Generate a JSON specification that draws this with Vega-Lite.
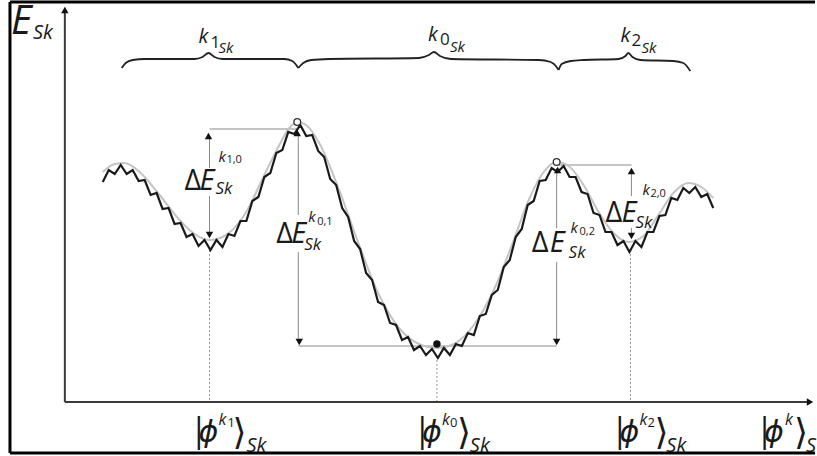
{
  "$schema": "https://vega.github.io/schema/vega-lite/v6.json",
  "width": 817,
  "height": 456,
  "autosize": {"type": "fit", "contains": "padding"},
  "padding": 0,
  "background": "white",
  "config": {"view": {"stroke": null}},
  "datasets": {
    "smooth": [
      {"x":103,"y":172},{"x":115,"y":164},{"x":125,"y":163},{"x":140,"y":172},{"x":160,"y":195},{"x":180,"y":220},{"x":195,"y":234},{"x":210,"y":240},{"x":225,"y":236},{"x":245,"y":215},{"x":265,"y":175},{"x":280,"y":145},{"x":290,"y":128},{"x":298,"y":122},{"x":308,"y":126},{"x":320,"y":143},{"x":340,"y":190},{"x":360,"y":245},{"x":380,"y":295},{"x":400,"y":328},{"x":420,"y":344},{"x":438,"y":348},{"x":455,"y":344},{"x":475,"y":325},{"x":495,"y":290},{"x":515,"y":240},{"x":530,"y":200},{"x":545,"y":172},{"x":558,"y":162},{"x":570,"y":166},{"x":585,"y":185},{"x":600,"y":212},{"x":615,"y":233},{"x":630,"y":242},{"x":645,"y":236},{"x":660,"y":215},{"x":675,"y":193},{"x":690,"y":183},{"x":703,"y":187},{"x":715,"y":198}
    ],
    "jag": [
      {"x":103,"y":182},{"x":109,"y":170},{"x":115,"y":174},{"x":121,"y":165},{"x":127,"y":174},{"x":133,"y":170},{"x":139,"y":181},{"x":145,"y":180},{"x":151,"y":195},{"x":157,"y":193},{"x":163,"y":209},{"x":169,"y":208},{"x":175,"y":224},{"x":181,"y":223},{"x":187,"y":237},{"x":193,"y":234},{"x":199,"y":246},{"x":205,"y":240},{"x":211,"y":250},{"x":217,"y":240},{"x":223,"y":247},{"x":229,"y":234},{"x":235,"y":236},{"x":241,"y":221},{"x":247,"y":221},{"x":253,"y":201},{"x":259,"y":197},{"x":265,"y":177},{"x":271,"y":173},{"x":277,"y":153},{"x":283,"y":150},{"x":289,"y":132},{"x":295,"y":134},{"x":301,"y":125},{"x":307,"y":136},{"x":313,"y":135},{"x":319,"y":151},{"x":325,"y":157},{"x":331,"y":179},{"x":337,"y":185},{"x":343,"y":208},{"x":349,"y":217},{"x":355,"y":241},{"x":361,"y":249},{"x":367,"y":273},{"x":373,"y":280},{"x":379,"y":302},{"x":385,"y":305},{"x":391,"y":323},{"x":397,"y":325},{"x":403,"y":340},{"x":409,"y":337},{"x":415,"y":350},{"x":421,"y":346},{"x":427,"y":355},{"x":433,"y":349},{"x":439,"y":358},{"x":445,"y":348},{"x":451,"y":355},{"x":457,"y":344},{"x":463,"y":346},{"x":469,"y":333},{"x":475,"y":335},{"x":481,"y":316},{"x":487,"y":314},{"x":493,"y":295},{"x":499,"y":290},{"x":505,"y":267},{"x":511,"y":260},{"x":517,"y":237},{"x":523,"y":229},{"x":529,"y":205},{"x":535,"y":201},{"x":541,"y":181},{"x":547,"y":180},{"x":553,"y":168},{"x":559,"y":172},{"x":565,"y":166},{"x":571,"y":177},{"x":577,"y":177},{"x":583,"y":192},{"x":589,"y":194},{"x":595,"y":213},{"x":601,"y":215},{"x":607,"y":232},{"x":613,"y":232},{"x":619,"y":245},{"x":625,"y":241},{"x":631,"y":252},{"x":637,"y":241},{"x":643,"y":247},{"x":649,"y":232},{"x":655,"y":232},{"x":661,"y":216},{"x":667,"y":215},{"x":673,"y":198},{"x":679,"y":200},{"x":685,"y":188},{"x":691,"y":193},{"x":697,"y":187},{"x":703,"y":197},{"x":709,"y":194},{"x":715,"y":208}
    ],
    "braces": [
      {"b":"b1","x":122,"y":68},{"b":"b1","x":126,"y":63},{"b":"b1","x":133,"y":60},{"b":"b1","x":145,"y":59},{"b":"b1","x":195,"y":59},{"b":"b1","x":203,"y":57},{"b":"b1","x":209,"y":53},{"b":"b1","x":215,"y":57},{"b":"b1","x":223,"y":59},{"b":"b1","x":285,"y":59},{"b":"b1","x":293,"y":61},{"b":"b1","x":297,"y":65},{"b":"b1","x":299,"y":68},
      {"b":"b2","x":299,"y":68},{"b":"b2","x":304,"y":63},{"b":"b2","x":312,"y":60},{"b":"b2","x":330,"y":59},{"b":"b2","x":420,"y":58},{"b":"b2","x":430,"y":55},{"b":"b2","x":435,"y":52},{"b":"b2","x":441,"y":56},{"b":"b2","x":452,"y":59},{"b":"b2","x":540,"y":60},{"b":"b2","x":552,"y":62},{"b":"b2","x":558,"y":67},{"b":"b2","x":560,"y":70},
      {"b":"b3","x":560,"y":70},{"b":"b3","x":563,"y":64},{"b":"b3","x":572,"y":61},{"b":"b3","x":585,"y":60},{"b":"b3","x":620,"y":59},{"b":"b3","x":627,"y":56},{"b":"b3","x":630,"y":53},{"b":"b3","x":634,"y":57},{"b":"b3","x":642,"y":60},{"b":"b3","x":675,"y":61},{"b":"b3","x":685,"y":63},{"b":"b3","x":692,"y":71}
    ],
    "axes": [
      {"x":65,"x2":65,"y":402,"y2":12},
      {"x":65,"x2":810,"y":402,"y2":402}
    ],
    "refs": [
      {"x":210,"x2":298,"y":129,"y2":129},
      {"x":299,"x2":558,"y":346,"y2":346},
      {"x":558,"x2":633,"y":165,"y2":165},
      {"x":210,"x2":210,"y":135,"y2":168},
      {"x":210,"x2":210,"y":196,"y2":236},
      {"x":299,"x2":299,"y":135,"y2":215},
      {"x":299,"x2":299,"y":252,"y2":342},
      {"x":558,"x2":558,"y":168,"y2":228},
      {"x":558,"x2":558,"y":262,"y2":342},
      {"x":633,"x2":633,"y":170,"y2":196},
      {"x":633,"x2":633,"y":228,"y2":236}
    ],
    "dots": [
      {"x":210,"x2":210,"y":250,"y2":402},
      {"x":438,"x2":438,"y":356,"y2":402},
      {"x":632,"x2":632,"y":250,"y2":402}
    ],
    "arrows": [
      {"x":65,"y":10,"d":"up"},
      {"x":812,"y":402,"d":"right"},
      {"x":209,"y":136,"d":"up"},
      {"x":210,"y":235,"d":"down"},
      {"x":298,"y":133,"d":"up"},
      {"x":300,"y":342,"d":"down"},
      {"x":559,"y":170,"d":"up"},
      {"x":558,"y":342,"d":"down"},
      {"x":633,"y":171,"d":"up"},
      {"x":633,"y":236,"d":"down"}
    ],
    "open": [
      {"x":298,"y":122},{"x":558,"y":162}
    ],
    "filled": [
      {"x":438,"y":344}
    ],
    "border": [
      {"x":10,"x2":10,"y":2,"y2":453},
      {"x":10,"x2":817,"y":2,"y2":2},
      {"x":10,"x2":817,"y":453,"y2":453}
    ],
    "italic": [
      {"t":"E","x":11,"y":34,"r":"big"},
      {"t":"Sk","x":33,"y":39,"r":"bigsub"},
      {"t":"k","x":199,"y":43,"r":"k"},
      {"t":"Sk","x":219,"y":53,"r":"ks"},
      {"t":"k","x":429,"y":41,"r":"k"},
      {"t":"Sk","x":451,"y":52,"r":"ks"},
      {"t":"k","x":622,"y":42,"r":"k"},
      {"t":"Sk","x":643,"y":53,"r":"ks"},
      {"t":"E","x":200,"y":190,"r":"dE"},
      {"t":"Sk","x":216,"y":194,"r":"dEsub"},
      {"t":"k","x":219,"y":162,"r":"dEk"},
      {"t":"E","x":292,"y":243,"r":"dE"},
      {"t":"Sk","x":305,"y":250,"r":"dEsub"},
      {"t":"k","x":309,"y":222,"r":"dEk"},
      {"t":"E","x":551,"y":252,"r":"dE"},
      {"t":"Sk","x":570,"y":258,"r":"dEsub"},
      {"t":"k","x":572,"y":233,"r":"dEk"},
      {"t":"E","x":623,"y":222,"r":"dE"},
      {"t":"Sk","x":637,"y":228,"r":"dEsub"},
      {"t":"k","x":644,"y":195,"r":"dEk"},
      {"t":"ϕ","x":199,"y":442,"r":"phi"},
      {"t":"k","x":219,"y":425,"r":"phik"},
      {"t":"Sk","x":247,"y":452,"r":"phis"},
      {"t":"ϕ","x":423,"y":442,"r":"phi"},
      {"t":"k","x":443,"y":425,"r":"phik"},
      {"t":"Sk","x":471,"y":452,"r":"phis"},
      {"t":"ϕ","x":621,"y":442,"r":"phi"},
      {"t":"k","x":641,"y":425,"r":"phik"},
      {"t":"Sk","x":668,"y":452,"r":"phis"},
      {"t":"ϕ","x":766,"y":442,"r":"phi"},
      {"t":"k","x":787,"y":425,"r":"phik"},
      {"t":"S","x":808,"y":452,"r":"phis"}
    ],
    "upright": [
      {"t":"1","x":211,"y":48,"r":"kd"},
      {"t":"0","x":441,"y":45,"r":"kd"},
      {"t":"2","x":633,"y":46,"r":"kd"},
      {"t":"Δ","x":185,"y":190,"r":"dE"},
      {"t":"1,0","x":227,"y":163,"r":"dEd"},
      {"t":"Δ","x":277,"y":243,"r":"dE"},
      {"t":"0,1","x":318,"y":225,"r":"dEd"},
      {"t":"Δ","x":533,"y":252,"r":"dE"},
      {"t":"0,2","x":581,"y":235,"r":"dEd"},
      {"t":"Δ","x":607,"y":222,"r":"dE"},
      {"t":"2,0","x":652,"y":197,"r":"dEd"},
      {"t":"|","x":190,"y":442,"r":"br"},
      {"t":"1","x":228,"y":427,"r":"phid"},
      {"t":"⟩","x":233,"y":444,"r":"ang"},
      {"t":"|","x":414,"y":442,"r":"br"},
      {"t":"0","x":451,"y":427,"r":"phid"},
      {"t":"⟩","x":458,"y":444,"r":"ang"},
      {"t":"|","x":612,"y":442,"r":"br"},
      {"t":"2","x":649,"y":427,"r":"phid"},
      {"t":"⟩","x":656,"y":444,"r":"ang"},
      {"t":"|","x":757,"y":442,"r":"br"},
      {"t":"⟩","x":796,"y":444,"r":"ang"}
    ]
  },
  "encoding": {
    "x": {"field": "x", "type": "quantitative", "scale": {"domain": [0, 817], "nice": false, "zero": false}, "axis": null},
    "y": {"field": "y", "type": "quantitative", "scale": {"domain": [0, 456], "nice": false, "zero": false, "reverse": true}, "axis": null}
  },
  "layer": [
    {"data": {"name": "dots"}, "mark": {"type": "rule", "color": "#9a9a9a", "strokeWidth": 1, "strokeDash": [2, 2]},
     "encoding": {"x2": {"field": "x2"}, "y2": {"field": "y2"}}},
    {"data": {"name": "refs"}, "mark": {"type": "rule", "color": "#8a8a8a", "strokeWidth": 1},
     "encoding": {"x2": {"field": "x2"}, "y2": {"field": "y2"}}},
    {"data": {"name": "axes"}, "mark": {"type": "rule", "color": "#3a3a3a", "strokeWidth": 2},
     "encoding": {"x2": {"field": "x2"}, "y2": {"field": "y2"}}},
    {"data": {"name": "braces"}, "mark": {"type": "line", "color": "#222", "strokeWidth": 1.8, "interpolate": "monotone"},
     "encoding": {"detail": {"field": "b"}}},
    {"data": {"name": "smooth"}, "mark": {"type": "line", "color": "#c4c4c4", "strokeWidth": 2, "interpolate": "monotone"}, "encoding": {}},
    {"data": {"name": "jag"}, "mark": {"type": "line", "color": "#1a1a1a", "strokeWidth": 2.2, "strokeJoin": "miter"}, "encoding": {}},
    {"data": {"name": "arrows"}, "mark": {"type": "point", "filled": true, "color": "#111", "opacity": 1, "size": 55},
     "encoding": {"shape": {"field": "d", "type": "nominal", "scale": {"domain": ["up", "down", "right"], "range": ["triangle-up", "triangle-down", "triangle-right"]}, "legend": null}}},
    {"data": {"name": "open"}, "mark": {"type": "point", "filled": false, "fill": "white", "fillOpacity": 1, "stroke": "#333", "strokeWidth": 1.3, "size": 45, "opacity": 1}},
    {"data": {"name": "filled"}, "mark": {"type": "circle", "color": "#111", "size": 55, "opacity": 1}},
    {"data": {"name": "italic"}, "mark": {"type": "text", "align": "left", "baseline": "alphabetic", "font": "Open Sans, DejaVu Sans", "fontStyle": "italic", "color": "#1a1a1a"},
     "encoding": {"text": {"field": "t"}, "size": {"field": "r", "type": "nominal", "scale": {"type": "ordinal", "domain": ["big","bigsub","k","kd","ks","dE","dEsub","dEk","dEd","phi","phik","phid","phis","br","ang"], "range": [40,20,20,17,15,29,17,15,11,30,16,13,20,34,36]}, "legend": null}}},
    {"data": {"name": "upright"}, "mark": {"type": "text", "align": "left", "baseline": "alphabetic", "font": "Open Sans, DejaVu Sans", "color": "#1a1a1a"},
     "encoding": {"text": {"field": "t"}, "size": {"field": "r", "type": "nominal", "scale": {"type": "ordinal", "domain": ["big","bigsub","k","kd","ks","dE","dEsub","dEk","dEd","phi","phik","phid","phis","br","ang"], "range": [40,20,20,17,15,29,17,15,11,30,16,13,20,34,36]}, "legend": null}}},
    {"data": {"name": "border"}, "mark": {"type": "rule", "color": "black", "strokeWidth": 3},
     "encoding": {"x2": {"field": "x2"}, "y2": {"field": "y2"}}}
  ]
}
